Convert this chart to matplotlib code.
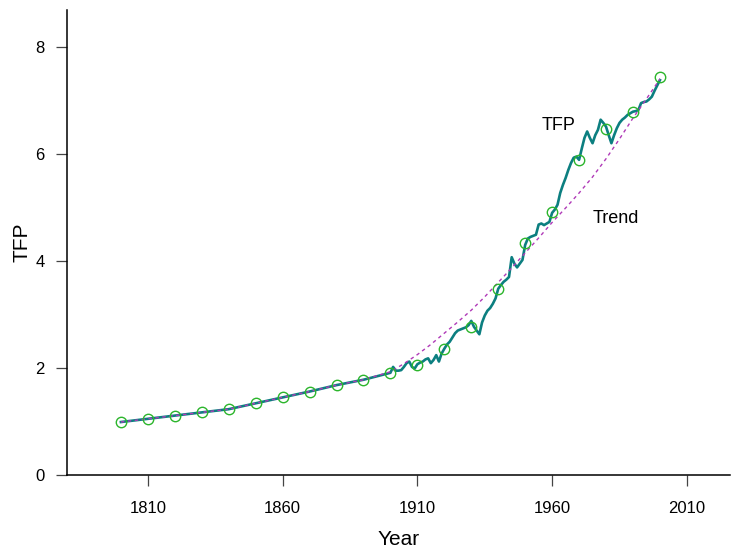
import matplotlib
matplotlib.use("Agg")
import matplotlib.pyplot as plt

plt.rcParams['font.family'] = ['Liberation Sans', 'DejaVu Sans']

# Decade observations (circles)
decade_years = [1800, 1810, 1820, 1830, 1840, 1850, 1860, 1870, 1880, 1890,
                1900, 1910, 1920, 1930, 1940, 1950, 1960, 1970, 1980, 1990, 2000]
decade_tfp = [0.99, 1.05, 1.11, 1.17, 1.23, 1.34, 1.45, 1.56, 1.68, 1.78,
              1.91, 2.06, 2.35, 2.76, 3.48, 4.33, 4.91, 5.89, 6.47, 6.79, 7.43]

# Annual TFP series, 1900-2000
annual_years = list(range(1900, 2001))
annual_tfp = [
    1.91, 2.02, 1.95, 1.95, 1.96, 2.02, 2.09, 2.12, 2.02, 1.99,   # 1900s
    2.07, 2.10, 2.12, 2.16, 2.18, 2.09, 2.15, 2.24, 2.12, 2.27,   # 1910s
    2.36, 2.44, 2.49, 2.57, 2.65, 2.70, 2.72, 2.74, 2.76, 2.80,   # 1920s
    2.88, 2.77, 2.70, 2.63, 2.85, 2.98, 3.07, 3.12, 3.20, 3.30,   # 1930s
    3.48, 3.55, 3.61, 3.65, 3.70, 4.07, 3.95, 3.88, 3.95, 4.02,   # 1940s
    4.30, 4.42, 4.45, 4.47, 4.49, 4.68, 4.70, 4.67, 4.70, 4.73,   # 1950s
    4.90, 4.96, 5.05, 5.27, 5.42, 5.55, 5.70, 5.83, 5.93, 5.95,   # 1960s
    5.89, 6.10, 6.30, 6.42, 6.30, 6.20, 6.35, 6.45, 6.64, 6.58,   # 1970s
    6.51, 6.35, 6.20, 6.35, 6.48, 6.58, 6.64, 6.68, 6.73, 6.76,   # 1980s
    6.79, 6.80, 6.82, 6.95, 6.97, 6.98, 7.02, 7.07, 7.18, 7.28,   # 1990s
    7.38,
]

# Fitted trend
trend_years = [1800, 1810, 1820, 1830, 1840, 1850, 1860, 1870, 1880, 1890,
               1900, 1905, 1910, 1915, 1920, 1925, 1930, 1935, 1940, 1945,
               1950, 1955, 1960, 1965, 1970, 1975, 1980, 1985, 1990, 1995, 2000]
trend_tfp = [0.99, 1.05, 1.11, 1.17, 1.23, 1.34, 1.45, 1.56, 1.68, 1.78,
             1.93, 2.08, 2.25, 2.44, 2.65, 2.86, 3.08, 3.33, 3.60, 3.87,
             4.15, 4.43, 4.72, 4.99, 5.27, 5.57, 5.91, 6.28, 6.67, 7.03, 7.40]

x_ticks = [1810, 1860, 1910, 1960, 2010]
y_ticks = [0, 2, 4, 6, 8]

line_years = decade_years[:10] + annual_years
line_tfp = decade_tfp[:10] + annual_tfp

fig = plt.figure(figsize=(7.31, 5.5), dpi=100)
ax = fig.add_axes([67 / 731, 75 / 550, 663 / 731, 465 / 550])

ax.plot(line_years, line_tfp, color='#0c7f80', lw=1.9, zorder=2,
        solid_joinstyle='round')
ax.plot(trend_years, trend_tfp, color='#b03ab8', lw=1.0, ls=(0, (2.5, 2.5)),
        zorder=3)
ax.plot(decade_years, decade_tfp, ls='none', marker='o', ms=7.5,
        mfc='none', mec='#2cb52c', mew=1.0, zorder=4)

ax.text(1962.5, 6.54, 'TFP', fontsize=13, ha='center', va='center')
ax.text(1983.7, 4.80, 'Trend', fontsize=13, ha='center', va='center')

ax.set_xlim(1780, 2026)
ax.set_ylim(0, 8.69)
ax.set_xticks(x_ticks)
ax.set_yticks(y_ticks)
ax.tick_params(direction='out', length=8, width=0.9, color='#444444',
               labelsize=12)
ax.tick_params(axis='x', pad=11)
ax.tick_params(axis='y', pad=8)
for side in ('top', 'right'):
    ax.spines[side].set_visible(False)
for side in ('left', 'bottom'):
    ax.spines[side].set_linewidth(1.1)
    ax.spines[side].set_color('black')

ax.set_xlabel('Year', fontsize=15, labelpad=9.5)
ax.set_ylabel('TFP', fontsize=15, labelpad=2.5)

fig.savefig('out.png', dpi=100)
